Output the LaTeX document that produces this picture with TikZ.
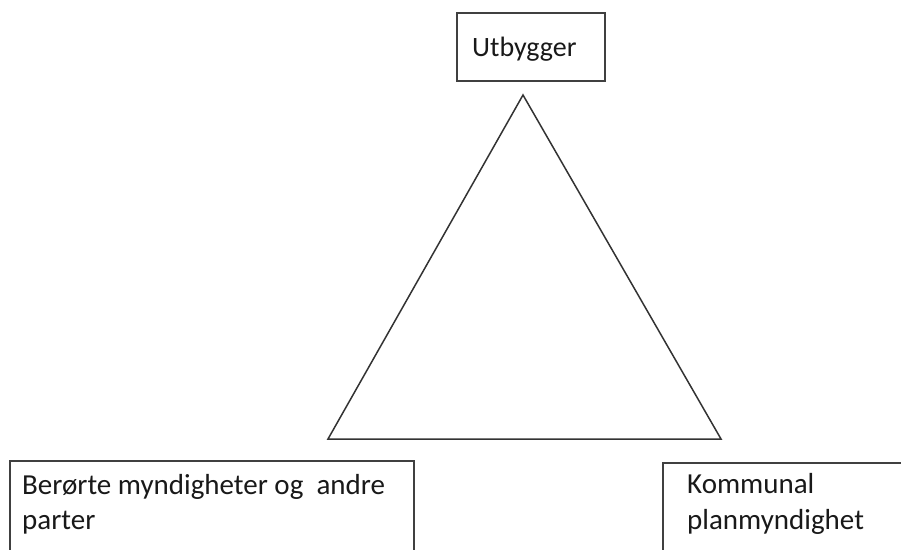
\documentclass[tikz,border=0pt]{standalone}
\usepackage{fontspec}
\setmainfont{Carlito}
\begin{document}
\begin{tikzpicture}[x=1pt,y=-1pt,
  boxstyle/.style={draw=black!75, line width=2pt, inner sep=0pt, anchor=north west},
  lbl/.style={anchor=base west, inner sep=0pt, font=\fontsize{29}{34}\selectfont, text=black!90},
  tri/.style={draw=black!80, line width=1.5pt, line join=miter}]
\useasboundingbox (0,0) rectangle (901,549);
\clip (0,0) rectangle (901,549);
% top box
\node[boxstyle, minimum width=148pt, minimum height=68pt] (ut) at (456,12) {};
\node[lbl, font=\fontsize{28}{33}\selectfont] (utt) at (472,56) {Utbygger};
% bottom left box
\node[boxstyle, minimum width=404pt, minimum height=110pt] (bl) at (9,460) {};
\node[lbl] (bl1) at (22,494) {Berørte myndigheter og\ \ andre};
\node[lbl] (bl2) at (22,529) {parter};
% bottom right box
\node[boxstyle, minimum width=260pt, minimum height=110pt] (br) at (662,462) {};
\node[lbl] (br1) at (687,493) {Kommunal};
\node[lbl] (br2) at (687,529) {planmyndighet};
% triangle
\coordinate (apex) at (523,95);
\coordinate (bleft) at (328,439);
\coordinate (bright) at (721,439);
\draw[tri] (apex) -- (bright) -- (bleft) -- cycle;
\end{tikzpicture}
\end{document}
